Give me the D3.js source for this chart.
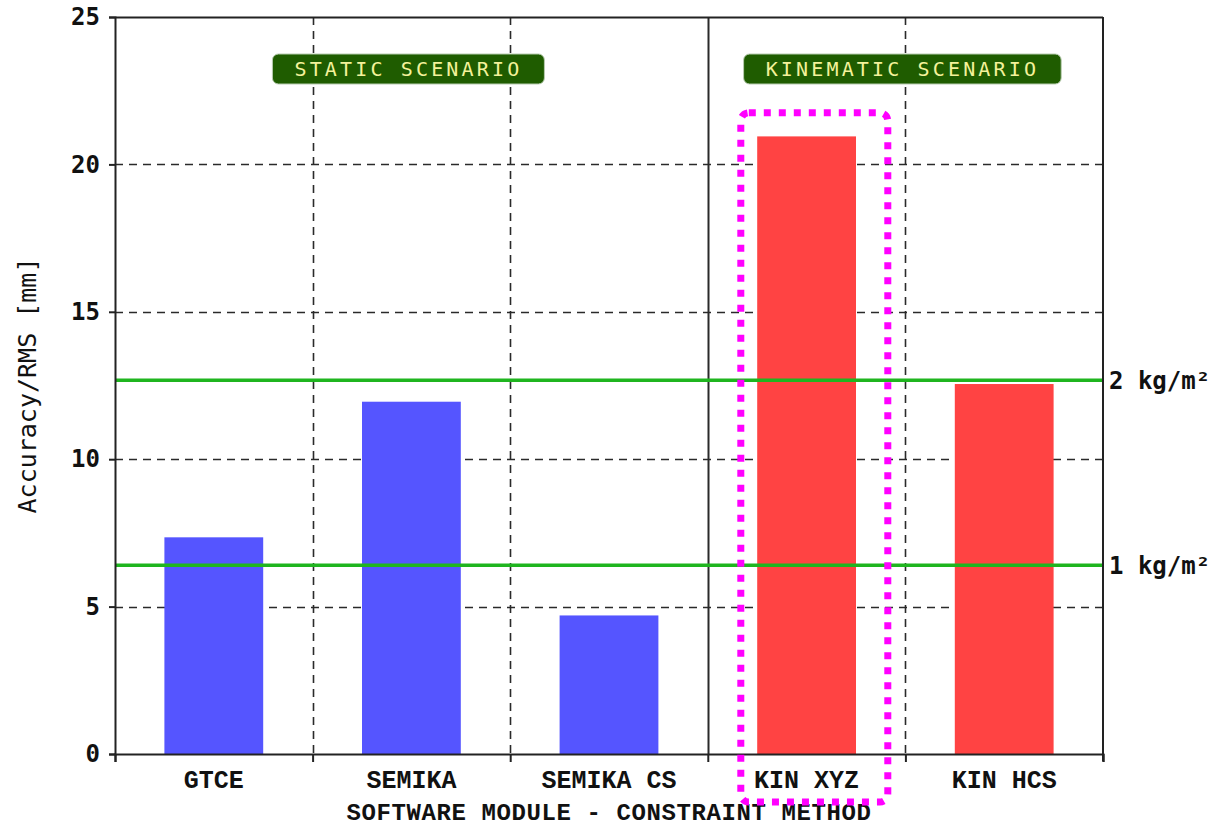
<!DOCTYPE html>
<html>
<head>
<meta charset="utf-8">
<script src="https://cdn.jsdelivr.net/npm/d3@7"></script>
<style>
  html, body { margin: 0; padding: 0; background: #fff; }
  svg { display: block; }
</style>
</head>
<body>
<svg id="chart" width="1225" height="829"></svg>
<script>
// Accuracy (RMS) per software module / constraint method
const categories = ["GTCE", "SEMIKA", "SEMIKA CS", "KIN XYZ", "KIN HCS"];
const rmsValues = [7.35, 11.95, 4.7, 20.95, 12.55];
const scenarioOf = ["static", "static", "static", "kinematic", "kinematic"];
const yTicks = [0, 5, 10, 15, 20, 25];
// Reference levels (mass per area) drawn as horizontal lines
const refLabels = ["1 kg/m²", "2 kg/m²"];
const refValues = [6.4, 12.68];
// Scenario group headers: label, first and last category index
const scenarioLabels = ["STATIC SCENARIO", "KINEMATIC SCENARIO"];
const scenarioStart = [0, 3];
const scenarioEnd = [2, 4];
const highlighted = "KIN XYZ";

const margin = { left: 115, right: 122, top: 17, bottom: 75 };
const W = 1225, H = 829;
const innerW = W - margin.left - margin.right;
const innerH = H - margin.top - margin.bottom;

const svg = d3.select("#chart");
const g = svg.append("g").attr("transform", `translate(${margin.left},${margin.top})`);

const x = d3.scaleBand().domain(categories).range([0, innerW]).padding(0);
const y = d3.scaleLinear().domain([0, 25]).range([innerH, 0]);

const gridColor = "#2a2a2a";
const monoFont = "'DejaVu Sans Mono', monospace";
const serifMono = "'Liberation Mono', 'DejaVu Sans Mono', monospace";

// horizontal dashed grid
g.append("g").selectAll("line")
  .data(yTicks.filter(d => d > 0 && d < 25))
  .join("line")
  .attr("x1", 0).attr("x2", innerW)
  .attr("y1", d => Math.round(y(d)) + 0.5).attr("y2", d => Math.round(y(d)) + 0.5)
  .attr("stroke", gridColor).attr("stroke-width", 1.6)
  .attr("stroke-dasharray", "8,6");

// vertical separators between categories; solid between the two scenarios
const boundaries = categories.slice(1).map((c, i) => ({ pos: x(c), solid: scenarioOf[i] !== scenarioOf[i + 1] }));
g.append("g").selectAll("line")
  .data(boundaries)
  .join("line")
  .attr("x1", d => Math.round(d.pos) + 0.5).attr("x2", d => Math.round(d.pos) + 0.5)
  .attr("y1", 0).attr("y2", innerH)
  .attr("stroke", gridColor).attr("stroke-width", d => d.solid ? 2 : 1.6)
  .attr("stroke-dasharray", d => d.solid ? null : "8,6");

// bars
const barW = x.bandwidth() * 0.5;
g.append("g").selectAll("rect")
  .data(categories.map((c, i) => ({ c, v: rmsValues[i], s: scenarioOf[i] })))
  .join("rect")
  .attr("x", d => x(d.c) + (x.bandwidth() - barW) / 2)
  .attr("width", barW)
  .attr("y", d => y(d.v))
  .attr("height", d => y(0) - y(d.v))
  .attr("fill", d => d.s === "static" ? "#5555ff" : "#ff4343");

// reference lines
g.append("g").selectAll("line")
  .data(refValues)
  .join("line")
  .attr("x1", 0).attr("x2", innerW)
  .attr("y1", d => y(d)).attr("y2", d => y(d))
  .attr("stroke", "#1fb51f").attr("stroke-width", 3.5);

g.append("g").selectAll("text")
  .data(refValues.map((v, i) => ({ v, t: refLabels[i] })))
  .join("text")
  .attr("x", innerW + 6)
  .attr("y", d => y(d.v))
  .attr("dy", "0.36em")
  .attr("font-family", monoFont)
  .attr("font-weight", "bold")
  .attr("font-size", 24)
  .attr("fill", "#111")
  .text(d => d.t);

// frame: top and right borders
g.append("line").attr("x1", 0).attr("x2", innerW).attr("y1", 0.5).attr("y2", 0.5)
  .attr("stroke", "#222").attr("stroke-width", 2);
g.append("line").attr("x1", innerW).attr("x2", innerW).attr("y1", 0).attr("y2", innerH + 7)
  .attr("stroke", "#222").attr("stroke-width", 2);

// y axis
const yAxis = d3.axisLeft(y).tickValues(yTicks).tickSize(6).tickPadding(9);
const yG = g.append("g").call(yAxis);
yG.select(".domain").attr("stroke", "#222").attr("stroke-width", 2);
yG.selectAll(".tick line").attr("stroke", "#222").attr("stroke-width", 2);
yG.selectAll(".tick text")
  .attr("font-family", monoFont).attr("font-size", 24).attr("fill", "#111")
  .attr("font-weight", "bold");

// x axis: ticks on category boundaries, labels at band centres
const xEdges = categories.map(c => x(c)).concat([innerW]);
const xAxisScale = d3.scaleLinear().domain([0, innerW]).range([0, innerW]);
const xG = g.append("g").attr("transform", `translate(0,${innerH})`)
  .call(d3.axisBottom(xAxisScale).tickValues(xEdges).tickSize(8).tickFormat(""));
xG.select(".domain").attr("stroke", "#222").attr("stroke-width", 2);
xG.selectAll(".tick line").attr("stroke", "#222").attr("stroke-width", 2);

g.append("g").selectAll("text")
  .data(categories)
  .join("text")
  .attr("x", d => x(d) + x.bandwidth() / 2)
  .attr("y", innerH + 34)
  .attr("text-anchor", "middle")
  .attr("font-family", serifMono)
  .attr("font-weight", "bold")
  .attr("font-size", 25)
  .attr("fill", "#111")
  .text(d => d);

// axis titles
g.append("text")
  .attr("x", innerW / 2)
  .attr("y", innerH + 66)
  .attr("text-anchor", "middle")
  .attr("font-family", serifMono)
  .attr("font-weight", "bold")
  .attr("font-size", 24)
  .attr("letter-spacing", 0.6)
  .attr("fill", "#111")
  .text("SOFTWARE MODULE - CONSTRAINT METHOD");

svg.append("text")
  .attr("transform", `translate(36,${margin.top + innerH / 2}) rotate(-90)`)
  .attr("text-anchor", "middle")
  .attr("font-family", monoFont)
  .attr("font-size", 25)
  .attr("fill", "#111")
  .text("Accuracy/RMS [mm]");

// scenario header badges
const badges = g.append("g").selectAll("g")
  .data(scenarioLabels.map((t, i) => ({
    t,
    x0: x(categories[scenarioStart[i]]),
    x1: x(categories[scenarioEnd[i]]) + x.bandwidth()
  })))
  .join("g");
const charW = 15.2;
badges.append("rect")
  .attr("x", d => (d.x0 + d.x1) / 2 - (d.t.length * charW + 44) / 2 - 3)
  .attr("width", d => d.t.length * charW + 44)
  .attr("y", 37)
  .attr("height", 30)
  .attr("rx", 6)
  .attr("fill", "#1f5c00")
  .attr("stroke", "#b8ccb0")
  .attr("stroke-width", 1);
badges.append("text")
  .attr("x", d => (d.x0 + d.x1) / 2 - 3)
  .attr("y", 52)
  .attr("dy", "0.36em")
  .attr("text-anchor", "middle")
  .attr("font-family", monoFont)
  .attr("font-size", 20)
  .attr("letter-spacing", 3.15)
  .attr("fill", "#f4f29a")
  .text(d => d.t);

// dotted highlight around the emphasised module
const hx = x(highlighted);
g.append("rect")
  .attr("x", hx + 33)
  .attr("y", y(21.75))
  .attr("width", 147)
  .attr("height", innerH + 48 - y(21.75))
  .attr("rx", 8)
  .attr("fill", "none")
  .attr("stroke", "#ff00ff")
  .attr("stroke-width", 7)
  .attr("stroke-dasharray", "7,8");
</script>
</body>
</html>
